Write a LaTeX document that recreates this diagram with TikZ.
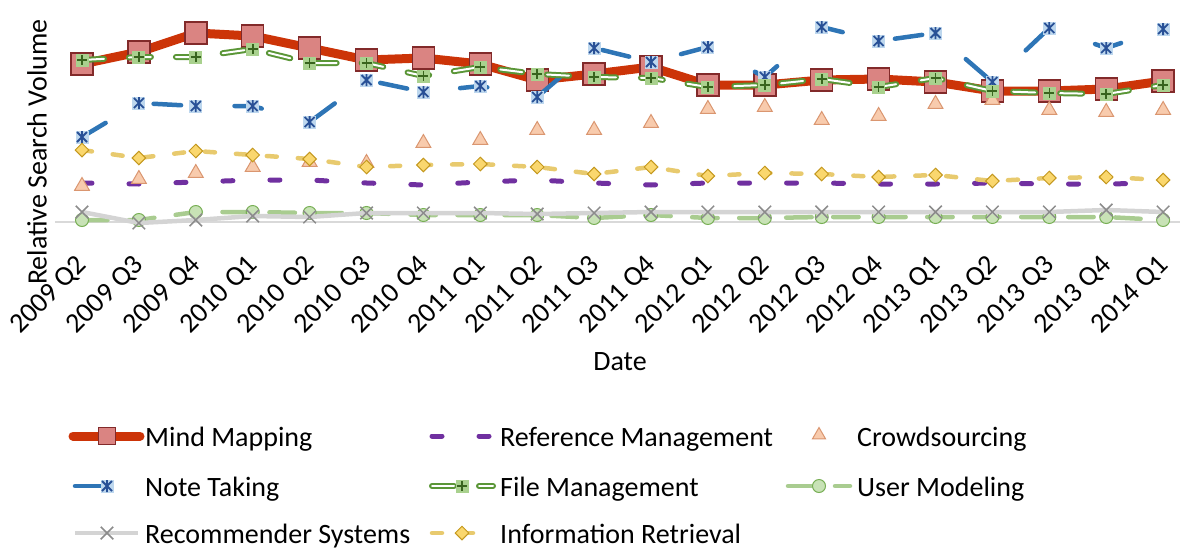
\documentclass[tikz,border=0pt]{standalone}
\usepackage{fontspec}
\setmainfont{Carlito}
\usetikzlibrary{shapes.geometric,shapes.misc}

% series colours
\definecolor{mmline}{RGB}{204,52,8}
\definecolor{mmfill}{RGB}{218,132,130}
\definecolor{mmedge}{RGB}{130,42,42}
\definecolor{ntline}{RGB}{46,117,182}
\definecolor{ntmk}{RGB}{40,80,150}
\definecolor{ntbg}{RGB}{189,215,238}
\definecolor{rsline}{RGB}{212,212,212}
\definecolor{rsmk}{RGB}{140,140,140}
\definecolor{rmline}{RGB}{112,48,160}
\definecolor{fmline}{RGB}{90,150,55}
\definecolor{fmfill}{RGB}{169,209,142}
\definecolor{fmplus}{RGB}{56,100,30}
\definecolor{irline}{RGB}{232,202,110}
\definecolor{irfill}{RGB}{250,215,110}
\definecolor{iredge}{RGB}{196,152,30}
\definecolor{csfill}{RGB}{248,203,173}
\definecolor{csedge}{RGB}{218,150,112}
\definecolor{umline}{RGB}{169,204,144}
\definecolor{umfill}{RGB}{200,226,182}
\definecolor{umedge}{RGB}{120,175,85}
\definecolor{axisgray}{RGB}{217,217,217}

% one named coordinate per quarter: (<series>-<index>)
\newcommand\placeseries[2]{%
  \foreach \v [count=\i from 0] in {#2} {\coordinate (#1-\i) at ({82+56.9*\i},\v);}}

\begin{document}
\begin{tikzpicture}[x=1pt,y=-1pt,
  every node/.style={font=\fontsize{28}{34}\selectfont},
  mmpath/.style={draw=mmline,line width=9pt,line join=round,line cap=round},
  rmpath/.style={draw=rmline,line width=5pt,line cap=round,dash pattern=on 10pt off 37pt},
  ntpath/.style={draw=ntline,line width=4.5pt,line cap=round,dash pattern=on 27.5pt off 53.5pt},
  fmpath/.style={draw=fmline,double=white,double distance=2pt,line width=2pt,line cap=round,dash pattern=on 22pt off 25pt},
  umpath/.style={draw=umline,line width=4.5pt,line cap=round,dash pattern=on 25.5pt off 21.5pt},
  rspath/.style={draw=rsline,line width=4.5pt,line join=round},
  irpath/.style={draw=irline,line width=4.5pt,line cap=round,dash pattern=on 10pt off 21pt},
  mmmark/.style={rectangle,minimum size=22pt,inner sep=0pt,fill=mmfill,draw=mmedge,line width=1.4pt},
  fmmark/.style={rectangle,minimum size=13pt,inner sep=0pt,fill=fmfill,
    path picture={\draw[fmplus,line width=1.6pt]
      (path picture bounding box.center) ++(0,5pt) -- ++(0,-10pt)
      (path picture bounding box.center) ++(-5pt,0) -- ++(10pt,0);}},
  ntmark/.style={rectangle,minimum size=13pt,inner sep=0pt,fill=ntbg,
    path picture={\draw[ntmk,line width=1.8pt]
      (path picture bounding box.center) ++(-5pt,-5pt) -- ++(10pt,10pt)
      (path picture bounding box.center) ++(-5pt,5pt) -- ++(10pt,-10pt)
      (path picture bounding box.center) ++(0,6pt) -- ++(0,-12pt);}},
  rsmark/.style={cross out,draw=rsmk,line width=1.5pt,minimum size=11pt,inner sep=0pt},
  irmark/.style={diamond,aspect=1,minimum size=14pt,inner sep=0pt,fill=irfill,draw=iredge,line width=1pt},
  csmark/.style={regular polygon,regular polygon sides=3,minimum size=17pt,inner sep=0pt,fill=csfill,draw=csedge,line width=1pt},
  ummark/.style={circle,minimum size=13pt,inner sep=0pt,fill=umfill,draw=umedge,line width=1pt},
  ticklab/.style={rotate=45,anchor=east,inner sep=0pt},
  lgtext/.style={anchor=base west,inner sep=0pt}
]
\useasboundingbox (0,0) rectangle (1180,549);

% horizontal axis
\coordinate (axl) at (55,222);
\coordinate (axr) at (1180,222);
\draw[axisgray,line width=1.5pt] (axl) -- (axr);

% quarterly values (drawing units, y grows downwards)
\placeseries{mm}{64,52,33,36,48,60,58,64,80,74,67,85,85,80,79,82,91,91,89,81}
\placeseries{rm}{183,184,182,180,180,183,185,182,180,183,185,183,183,183,184,184,183,184,184,183}
\placeseries{cs}{186,179,173,167,162,163,143,140,130,130,123,109,107,120,116,104,100,110,112,110}
\placeseries{nt}{137,103,106,106,122,80,92,86,97,48,62,47,77,27,41,33,82,28,48,29}
\placeseries{fm}{60,57,57,49,63,63,76,67,74,77,78,87,85,79,87,78,91,93,94,85}
\placeseries{um}{220,220,212,212,213,213,215,215,215,218,215,218,218,217,217,217,217,217,217,220}
\placeseries{rs}{212,223,220,216,217,213,213,213,214,213,212,212,212,212,212,212,212,212,210,212}
\placeseries{ir}{150,158,151,155,159,167,165,164,167,174,167,176,173,174,177,175,181,178,177,180}

% Mind Mapping
\draw[mmpath] (mm-0) \foreach \i in {1,...,19}{ -- (mm-\i)};
\foreach \i in {0,...,19} \node[mmmark] (mmk-\i) at (mm-\i) {};
% Reference Management
\draw[rmpath] (rm-0) \foreach \i in {1,...,19}{ -- (rm-\i)};
% Crowdsourcing
\foreach \i in {0,...,19} \node[csmark] (csk-\i) at (cs-\i) {};
% Note Taking
\draw[ntpath] (nt-0) \foreach \i in {1,...,19}{ -- (nt-\i)};
\foreach \i in {0,...,19} \node[ntmark] (ntk-\i) at (nt-\i) {};
% File Management
\draw[fmpath] (fm-0) \foreach \i in {1,...,19}{ -- (fm-\i)};
\foreach \i in {0,...,19} \node[fmmark] (fmk-\i) at (fm-\i) {};
% User Modeling
\draw[umpath] (um-0) \foreach \i in {1,...,19}{ -- (um-\i)};
\foreach \i in {0,...,19} \node[ummark] (umk-\i) at (um-\i) {};
% Recommender Systems
\draw[rspath] (rs-0) \foreach \i in {1,...,19}{ -- (rs-\i)};
\foreach \i in {0,...,19} \node[rsmark] (rsk-\i) at (rs-\i) {};
% Information Retrieval
\draw[irpath] (ir-0) \foreach \i in {1,...,19}{ -- (ir-\i)};
\foreach \i in {0,...,19} \node[irmark] (irk-\i) at (ir-\i) {};

% category labels
\foreach \lab [count=\i from 0] in {2009 Q2,2009 Q3,2009 Q4,2010 Q1,2010 Q2,2010 Q3,2010 Q4,2011 Q1,2011 Q2,2011 Q3,2011 Q4,2012 Q1,2012 Q2,2012 Q3,2012 Q4,2013 Q1,2013 Q2,2013 Q3,2013 Q4,2014 Q1}
  \node[ticklab] (tk-\i) at ({83+56.9*\i},261) {\lab};

% axis titles
\node[rotate=90,inner sep=0pt] (ytitle) at (37,152) {Relative Search Volume};
\node[inner sep=0pt] (xtitle) at (620,362) {Date};

% legend, first column
\coordinate (l1a) at (73,436);  \coordinate (l1b) at (140,436);
\draw[mmpath] (l1a) -- (l1b);
\node[mmmark,minimum size=17pt] (l1m) at (107,436) {};
\node[lgtext] (l1t) at (145,446.5) {Mind Mapping};

\coordinate (l2a) at (75,486);  \coordinate (l2b) at (140,486);
\draw[ntpath] (l2a) -- (l2b);
\node[ntmark] (l2m) at (107,486) {};
\node[lgtext] (l2t) at (145,496.5) {Note Taking};

\coordinate (l3a) at (75,533);  \coordinate (l3b) at (138,533);
\draw[rspath] (l3a) -- (l3b);
\node[rsmark] (l3m) at (107,533) {};
\node[lgtext] (l3t) at (145,543.5) {Recommender Systems};

% legend, second column
\coordinate (l4a) at (432,436);  \coordinate (l4b) at (493,436);
\draw[rmpath] (l4a) -- (l4b);
\node[lgtext] (l4t) at (500,446.5) {Reference Management};

\coordinate (l5a) at (432,486);  \coordinate (l5b) at (493,486);
\draw[fmpath] (l5a) -- (l5b);
\node[fmmark] (l5m) at (462,486) {};
\node[lgtext] (l5t) at (500,496.5) {File Management};

\coordinate (l6a) at (432,533);  \coordinate (l6b) at (493,533);
\draw[irpath] (l6a) -- (l6b);
\node[irmark] (l6m) at (462,533) {};
\node[lgtext] (l6t) at (500,543.5) {Information Retrieval};

% legend, third column
\node[csmark,minimum size=15pt] (l7m) at (819,435) {};
\node[lgtext] (l7t) at (857,446.5) {Crowdsourcing};

\coordinate (l8a) at (788,486);  \coordinate (l8b) at (850,486);
\draw[umpath] (l8a) -- (l8b);
\node[ummark] (l8m) at (819,486) {};
\node[lgtext] (l8t) at (857,496.5) {User Modeling};
\end{tikzpicture}
\end{document}
